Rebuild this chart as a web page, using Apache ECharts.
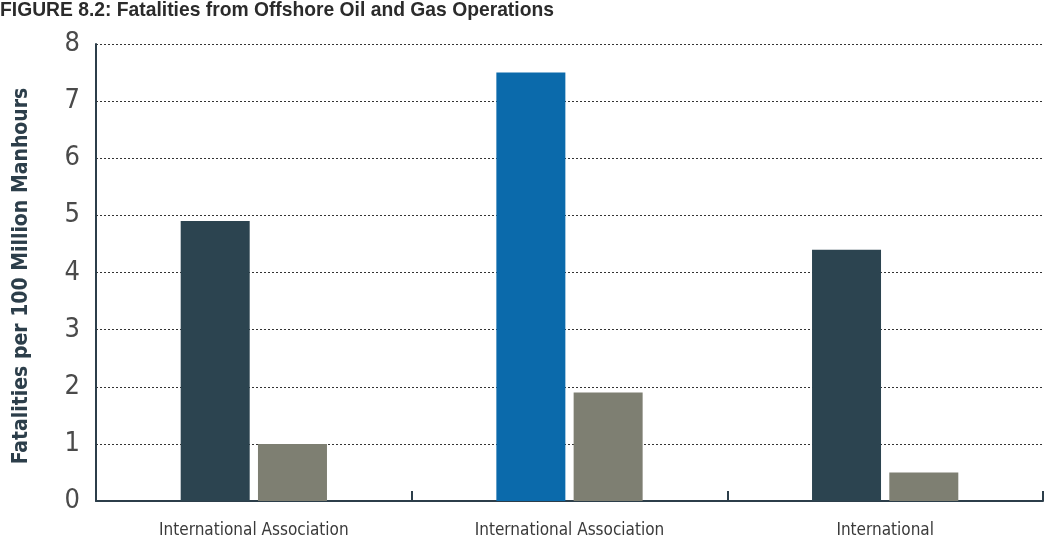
<!DOCTYPE html>
<html><head><meta charset="utf-8">
<script src="https://cdn.jsdelivr.net/npm/echarts@6/dist/echarts.min.js"></script>
<style>html,body{margin:0;padding:0;background:#fff}#c{width:1045px;height:539px}</style>
</head><body><div id="c"></div>
<script>
const titleText = 'FIGURE 8.2: Fatalities from Offshore Oil and Gas Operations';
const yAxisName = 'Fatalities per 100 Million Manhours';
const categories = ['International Association', 'International Association', 'International'];
const seriesA = [4.9, 7.5, 4.4];
const seriesB = [1.0, 1.9, 0.5];
const colorsA = ['#2c4450', '#0b6aab', '#2c4450'];
const colorB = '#7e7f72';
const narrow = "'Liberation Sans Narrow', 'DejaVu Sans Condensed', 'Roboto', sans-serif";

const chart = echarts.init(document.getElementById('c'));
chart.setOption({
  animation: false,
  title: {
    text: titleText, left: 0, top: 1, padding: 0,
    textStyle: {fontFamily: "'Liberation Sans', Arial, sans-serif", fontSize: 19.3, fontWeight: 'bold', color: '#2b2b2b'}
  },
  graphic: [{
    type: 'text',
    rotation: Math.PI / 2,
    x: 22, y: 276,
    style: {text: yAxisName, fill: '#2c3e4a', font: "bold 21px 'Liberation Sans Narrow', 'DejaVu Sans Condensed', sans-serif", textAlign: 'center', textVerticalAlign: 'middle'}
  }],
  grid: {left: 96, right: 2, top: 44, bottom: 38},
  xAxis: {
    type: 'category', data: categories,
    axisLine: {lineStyle: {color: '#2c3e4a', width: 2}},
    axisTick: {show: true, inside: true, length: 10, lineStyle: {color: '#2c3e4a', width: 2}},
    axisLabel: {fontFamily: narrow, fontSize: 17, color: '#3a3a3a', margin: 21}
  },
  yAxis: {
    type: 'value', min: 0, max: 8, interval: 1,
    axisLine: {show: true, lineStyle: {color: '#2c3e4a', width: 2}},
    axisTick: {show: false},
    axisLabel: {fontFamily: narrow, fontSize: 27, color: '#4a4a4a', margin: 16},
    splitLine: {lineStyle: {color: '#333', type: [2, 2], width: 1}}
  },
  series: [
    {type: 'bar', barWidth: 69, barGap: '12%',
     data: seriesA.map((v, i) => ({value: v, itemStyle: {color: colorsA[i]}}))},
    {type: 'bar', barWidth: 69, barGap: '12%', itemStyle: {color: colorB}, data: seriesB}
  ]
});
</script></body></html>
